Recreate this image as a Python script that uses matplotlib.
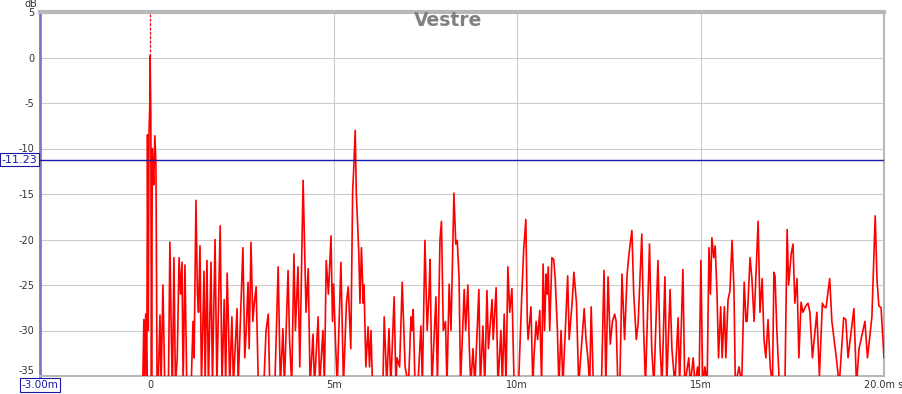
import matplotlib
matplotlib.use("Agg")
import matplotlib.pyplot as plt

# impulse response, time in ms, level in dB (peaks and dips)
time_ms = [
    -0.20, -0.17, -0.15, -0.12, -0.09, -0.07, -0.05, -0.03, -0.01, 0.00, 0.02, 0.04, 0.06, 0.08,
    0.10, 0.13, 0.16, 0.19, 0.22, 0.27, 0.30, 0.35, 0.40, 0.50, 0.54, 0.58, 0.61, 0.65, 0.69,
    0.74, 0.79, 0.83, 0.87, 0.90, 0.95, 1.00, 1.12, 1.17, 1.20, 1.25, 1.29, 1.32, 1.36, 1.40,
    1.47, 1.50, 1.55, 1.59, 1.66, 1.70, 1.77, 1.82, 1.91, 1.96, 2.02, 2.06, 2.10, 2.14, 2.17,
    2.23, 2.27, 2.37, 2.40, 2.53, 2.58, 2.62, 2.67, 2.70, 2.75, 2.80, 2.84, 2.89, 2.95,
    3.10, 3.16, 3.22, 3.26, 3.35, 3.40, 3.49, 3.55, 3.62, 3.66, 3.76, 3.80, 3.86, 3.92, 3.96,
    4.03, 4.08, 4.17, 4.25, 4.31, 4.36, 4.44, 4.48, 4.58, 4.62, 4.71, 4.75, 4.80, 4.86, 4.93,
    4.97, 5.00, 5.05, 5.10, 5.20, 5.27, 5.35, 5.40, 5.47, 5.52, 5.55, 5.59, 5.62, 5.66, 5.69,
    5.72, 5.76, 5.81, 5.83, 5.88, 5.94, 5.98, 6.02, 6.06, 6.30, 6.35, 6.38, 6.45, 6.51, 6.56,
    6.65, 6.70, 6.73, 6.80, 6.87, 6.95, 7.04, 7.11, 7.14, 7.17, 7.22, 7.30, 7.38, 7.42, 7.49,
    7.55, 7.60, 7.63, 7.68, 7.79, 7.83, 7.90, 7.94, 7.99, 8.05, 8.09, 8.15, 8.20, 8.28, 8.33,
    8.37, 8.42, 8.46, 8.56, 8.60, 8.66, 8.70, 8.74, 8.80, 8.85, 8.96, 9.00, 9.07, 9.12, 9.18,
    9.22, 9.32, 9.35, 9.43, 9.48, 9.56, 9.60, 9.65, 9.70, 9.75, 9.80, 9.86, 9.92, 10.00, 10.05,
    10.13, 10.18, 10.24, 10.28, 10.30, 10.38, 10.43, 10.46, 10.52, 10.56, 10.62, 10.67, 10.71,
    10.75, 10.79, 10.82, 10.85, 10.89, 10.95, 11.00, 11.04, 11.10, 11.14, 11.20, 11.25, 11.38,
    11.42, 11.50, 11.55, 11.62, 11.68, 11.83, 11.88, 11.93, 11.98, 12.02, 12.08, 12.30, 12.37,
    12.42, 12.48, 12.54, 12.60, 12.66, 12.70, 12.74, 12.80, 12.86, 12.93, 13.00, 13.05, 13.13,
    13.18, 13.25, 13.30, 13.40, 13.45, 13.50, 13.61, 13.67, 13.73, 13.84, 13.90, 13.95, 14.03,
    14.08, 14.17, 14.22, 14.30, 14.39, 14.43, 14.52, 14.57, 14.68, 14.72, 14.80, 14.85, 14.92,
    14.96, 15.01, 15.06, 15.12, 15.18, 15.23, 15.27, 15.31, 15.36, 15.40, 15.45, 15.49, 15.55,
    15.59, 15.65, 15.69, 15.75, 15.80, 15.86, 15.91, 15.95, 16.05, 16.12, 16.19, 16.24, 16.27,
    16.35, 16.40, 16.46, 16.57, 16.62, 16.68, 16.73, 16.78, 16.84, 16.90, 16.96, 17.00, 17.03,
    17.08, 17.15, 17.30, 17.36, 17.40, 17.47, 17.52, 17.57, 17.63, 17.68, 17.74, 17.79, 17.87,
    17.93, 17.98, 18.05, 18.17, 18.24, 18.32, 18.37, 18.42, 18.52, 18.58, 18.70, 18.78, 18.90,
    18.96, 19.02, 19.18, 19.25, 19.32, 19.48, 19.55, 19.67, 19.76, 19.81, 19.86, 19.92, 19.97,
    20.00,
]
level_db = [
    -36, -28.8, -36, -28.2, -36, -8.5, -30, -8.4, -5.5, 0.2, -6, -36, -10, -12.5,
    -14, -8.6, -12, -36, -36, -28.3, -36, -25, -36, -36, -20.3, -31, -36, -22, -36,
    -33, -22, -26, -22.5, -36, -22.8, -36, -36, -29, -33, -15.7, -26, -28, -20.7, -36,
    -23.5, -36, -22.3, -36, -22.5, -36, -20, -36, -18.5, -36, -26.6, -36, -23.7, -30, -36,
    -28.5, -36, -27.6, -36, -20.9, -33, -30, -24.7, -32, -20.3, -29, -27, -25.2, -36,
    -36, -30, -28.2, -36, -35.5, -36, -23, -36, -29.8, -36, -23.4, -31, -36, -21.6, -30,
    -23, -34, -13.5, -28, -23.2, -36, -30.4, -36, -28.5, -36, -30, -36, -22.3, -26, -19.6,
    -29, -24.9, -31, -36, -22.5, -36, -27, -25.2, -32, -14.7, -12.2, -8, -15, -18.7, -21.8,
    -27, -20.9, -27, -25, -34, -29.6, -34, -30, -36, -36, -35, -28.5, -36, -29.8, -36,
    -26.3, -36, -33, -34, -24.7, -34, -36, -28.5, -30, -27.7, -36, -36, -29.5, -36, -20.1,
    -30, -26, -22.2, -36, -26.3, -36, -20, -18, -30, -29, -36, -24.9, -30, -14.9, -20.5,
    -20.1, -24.2, -36, -25.5, -30, -25, -32, -36, -32, -36, -25.5, -36, -29.5, -36, -25.6,
    -32, -26.6, -31, -25.3, -36, -30, -36, -28.2, -36, -23, -28, -25.4, -36, -36, -35,
    -26, -21.2, -17.8, -29, -31, -27.4, -36, -33, -29, -31, -27.8, -36, -22.7,
    -30, -23.8, -26, -23, -30, -22, -22.2, -24.3, -30, -36, -30, -36, -24,
    -31, -27, -23.6, -27, -36, -27.6, -31, -33, -36, -27.4, -36, -36, -23.4,
    -36, -24.1, -31.5, -29, -28.2, -29, -35, -36, -23.8, -31, -23.8, -21.6, -19,
    -26, -31, -29.2, -19.4, -30, -36, -20.5, -32, -36, -22.3, -32, -36, -24.1,
    -36, -25.5, -32, -36, -28.6, -36, -23.3, -36, -33, -36, -33, -36, -34,
    -36, -22.3, -36, -34, -36, -20.9, -26, -19.8, -22, -20.7, -26, -33, -27.4,
    -33, -27.4, -33, -26.6, -25.7, -20.1, -25.3, -36, -34, -36, -24.7, -29, -29,
    -22, -24.3, -29, -18, -28, -24.3, -31, -33, -28.8, -34, -36, -23.6, -24,
    -30, -36, -36, -18.9, -25, -21.6, -20.5, -27, -24.3, -33, -26.9, -28, -27.3,
    -27, -28, -33, -28, -35, -27, -27.4, -27.5, -24.3, -29, -33, -36, -28.6,
    -28.8, -33, -27.6, -36, -32, -29, -33, -28.5, -17.4, -24.5, -27.3, -27.5, -31,
    -33,
]

y_ticks = [5, 0, -5, -10, -15, -20, -25, -30, -35]
x_ticks = [0, 5, 10, 15, 20]
x_tick_labels = ["0", "5m", "10m", "15m", "20.0m s"]
cursor_db = -11.23

fig = plt.figure(figsize=(9.03, 3.94), dpi=100)
ax = fig.add_axes([40 / 903, 18 / 394, 844 / 903, 364 / 394])

ax.plot(time_ms, level_db, color="#ff0000", linewidth=1.2, zorder=3)
# dotted marker above the main peak
ax.plot([0, 0], [0.2, 5], color="#ff0000", linewidth=0.9, linestyle=(0, (2, 1.5)), zorder=3)
ax.axhline(cursor_db, color="#1a1aa6", linewidth=1.0, zorder=4)

ax.set_xlim(-3, 20)
ax.set_ylim(-35, 5)
ax.set_xticks(x_ticks)
ax.set_xticklabels(x_tick_labels)
ax.set_yticks(y_ticks)
ylabels = ax.set_yticklabels([str(v) for v in y_ticks])
ylabels[-1].set_va("bottom")  # bottom label sits just above the axis line
ax.tick_params(length=0, labelsize=7, labelcolor="#333333", pad=4)
ax.tick_params(axis="x", pad=3)
ax.grid(True, color="#cccccc", linewidth=0.8, zorder=0)

for side in ["top", "right", "bottom"]:
    ax.spines[side].set_color("#b8b8b8")
ax.spines["top"].set_linewidth(3)
ax.spines["right"].set_linewidth(1.5)
ax.spines["bottom"].set_linewidth(1.5)
ax.spines["left"].set_color("#7878d0")
ax.spines["left"].set_linewidth(2)

fig.text(31 / 903, 1 - 4 / 394, "dB", fontsize=7, color="#333333", ha="center", va="center")
fig.text(448 / 903, 1 - 21 / 394, "Vestre", fontsize=13.5, fontweight="bold", color="#808080",
         ha="center", va="center")

box = dict(boxstyle="square,pad=0.15", facecolor="white", edgecolor="#1a1aa6", linewidth=0.8)
ax.text(-3.08, cursor_db, "-11.23", fontsize=8, color="#1a1aa6", ha="right", va="center",
        bbox=box, zorder=5, clip_on=False)
fig.text(40 / 903, 1 - 385 / 394, "-3.00m", fontsize=7.5, color="#1a1aa6", ha="center",
         va="center", bbox=box)

plt.savefig("out.png", dpi=100)
